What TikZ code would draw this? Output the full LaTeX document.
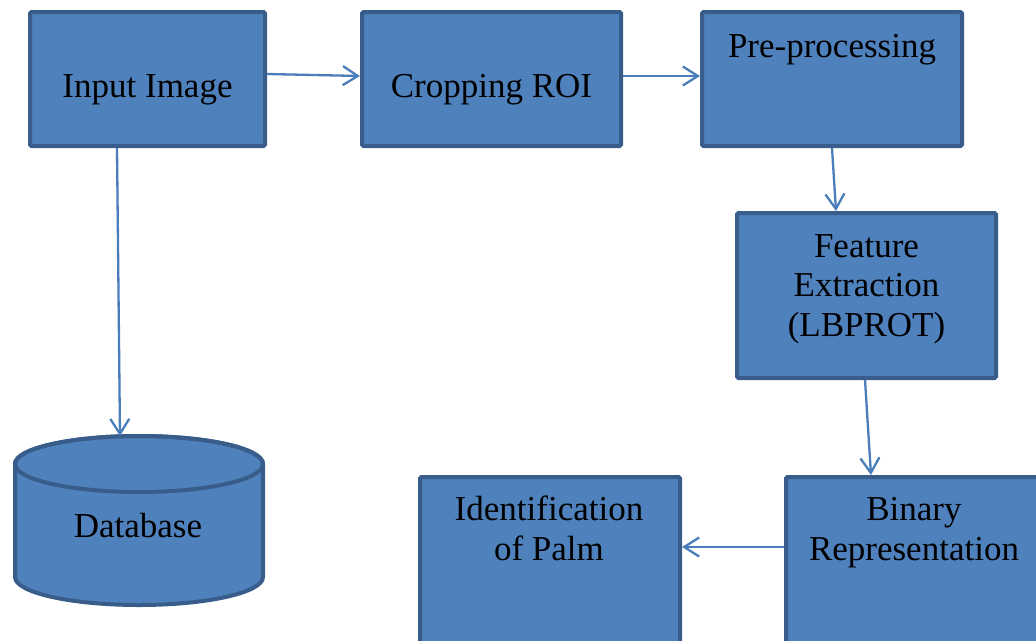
\documentclass[tikz,border=0pt]{standalone}
\usepackage{fontspec}
\setmainfont{Liberation Serif}
\usetikzlibrary{arrows.meta}
\definecolor{boxfill}{HTML}{4F81BD}
\definecolor{boxline}{HTML}{385D8A}
\definecolor{arrowcol}{HTML}{4A7EBB}
\begin{document}
\begin{tikzpicture}[x=1pt,y=-1pt,
  box/.style={draw=boxline, fill=boxfill, line width=4pt, rounded corners=1.5pt, inner sep=0pt},
  lbl/.style={font=\fontsize{35}{39.5}\selectfont, align=center, inner sep=0pt, text=black},
  conn/.style={draw=arrowcol, line width=2.3pt, -{Straight Barb[length=15pt, width=19pt, line width=2.3pt]}}]
\useasboundingbox (0,0) rectangle (1036,640);
\clip (0,0) rectangle (1036,640);
% boxes
\node[box, minimum width=235pt, minimum height=134pt] (in) at (147.5,79) {};
\node[box, minimum width=259pt, minimum height=134pt] (crop) at (491.5,79) {};
\node[box, minimum width=260pt, minimum height=134pt] (pre) at (832,79) {};
\node[box, minimum width=259pt, minimum height=165pt] (feat) at (866.5,295.5) {};
\node[box, minimum width=260pt, minimum height=173pt] (bin) at (916,563.5) {};
\node[box, minimum width=260pt, minimum height=173pt] (idp) at (550,563.5) {};
% database cylinder
\path[fill=boxfill, draw=boxline, line width=4pt]
  (15,464) -- (15,577) arc[start angle=180, end angle=0, x radius=124, y radius=28]
  -- (263,464) arc[start angle=0, end angle=-180, x radius=124, y radius=28] -- cycle;
\draw[boxline, line width=4pt] (139,464) ellipse[x radius=124, y radius=28];
\coordinate (dbtop) at (120,436);
% labels
\node[lbl, anchor=base] (inT) at (147.5,97.7) {Input Image};
\node[lbl, anchor=base] (cropT) at (491.5,97.7) {Cropping ROI};
\node[lbl, anchor=base] (preT) at (832,57) {Pre-processing};
\node[lbl, anchor=base] (featT) at (866.5,336) {Feature\\Extraction\\(LBPROT)};
\node[lbl, anchor=base] (binT) at (914,560) {Binary\\Representation};
\node[lbl, anchor=base] (idpT) at (549,560) {Identification\\of Palm};
\node[lbl, anchor=base] (dbT) at (138,537) {Database};
% connectors
\draw[conn] ([yshift=5pt]in.east) -- ([yshift=3pt]crop.west);
\draw[conn] ([yshift=3pt]crop.east) -- ([yshift=3pt]pre.west);
\draw[conn] (pre.south) -- ([xshift=-30.5pt]feat.north);
\draw[conn] ([xshift=-1.5pt]feat.south) -- ([xshift=-45pt]bin.north);
\draw[conn] ([yshift=16.5pt]bin.west) -- ([yshift=16.5pt]idp.east);
\draw[conn] ([xshift=-30.5pt]in.south) -- (dbtop);
\end{tikzpicture}
\end{document}
